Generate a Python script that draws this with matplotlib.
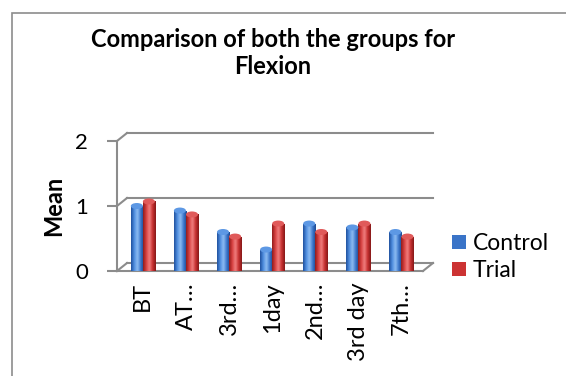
import matplotlib.pyplot as plt
import matplotlib.transforms as mtransforms
import numpy as np
from matplotlib.colors import LinearSegmentedColormap
from matplotlib.patches import Rectangle, Ellipse

plt.rcParams['font.family'] = ['Lato', 'DejaVu Sans']

# categories and group means
labels = ['BT', 'AT…', '3rd…', '1day', '2nd…', '3rd day', '7th…']
control = [1.0, 0.93, 0.6, 0.33, 0.73, 0.67, 0.6]
trial = [1.07, 0.87, 0.53, 0.73, 0.6, 0.73, 0.53]

W, H = 566, 376
fig = plt.figure(figsize=(W / 100, H / 100), dpi=100)
fig.patches.append(Rectangle((12 / W, -0.05), 1.1, 1 - 13 / H + 0.05,
                             transform=fig.transFigure, fill=False,
                             edgecolor='#8c8c8c', lw=1.2))

ax = fig.add_axes([117 / W, 1 - 271 / H, 306 / W, 130 / H])
x = np.arange(len(labels))
w = 0.28
xlim = (-0.6, 6.5)
ylim = (0, 2)
ax.set_xlim(*xlim)
ax.set_ylim(*ylim)

# back wall lines, shifted like the 3D chart
grey = '#8c8c8c'
back = mtransforms.offset_copy(ax.transData, fig=fig, x=10, y=8, units='dots')
inv = ax.transData.inverted()
for yv in [0, 1, 2]:
    ax.plot([xlim[0], xlim[1]], [yv, yv], color=grey, lw=1.5, transform=back,
            clip_on=False, zorder=1)
    a = (xlim[0], yv)
    b = inv.transform(back.transform((xlim[0], yv)))
    ax.plot([a[0], b[0]], [a[1], b[1]], color=grey, lw=1.5, clip_on=False,
            zorder=1)
# floor front edge and right edge
br = inv.transform(back.transform((xlim[1], 0)))
fr = inv.transform(back.transform((xlim[1], 0)) - np.array([10, 8]))
ax.plot([xlim[0], fr[0]], [0, 0], color=grey, lw=1.5, clip_on=False, zorder=1)
ax.plot([fr[0], br[0]], [0, br[1]], color=grey, lw=1.5, clip_on=False,
        zorder=1)

bars_c = ax.bar(x - w / 2, control, w, color='#3a74c8', label='Control',
                zorder=3)
bars_t = ax.bar(x + w / 2, trial, w, color='#cc3333', label='Trial', zorder=3)

cm_b = LinearSegmentedColormap.from_list(
    'b', ['#1f4f9c', '#4f8ee0', '#8fbdf2', '#3d78cc', '#1c4890'])
cm_r = LinearSegmentedColormap.from_list(
    'r', ['#8e1c1c', '#d84040', '#f08080', '#c83030', '#841818'])
grad = np.linspace(0, 1, 64).reshape(1, -1)
cap_h = 6 / 65
for bars, cm, capc in [(bars_c, cm_b, '#5d98e4'), (bars_t, cm_r, '#e05a5a')]:
    for b in bars:
        bx, by, bw, bh = b.get_x(), b.get_y(), b.get_width(), b.get_height()
        im = ax.imshow(grad, cmap=cm, extent=(bx, bx + bw, by, by + bh),
                       aspect='auto', zorder=4, interpolation='bicubic')
        im.set_clip_path(b)
        ax.add_patch(Ellipse((bx + bw / 2, by + bh), bw, cap_h, color=capc,
                             zorder=5, lw=0, clip_on=False))

ax.set_xlim(*xlim)
ax.set_ylim(*ylim)
ax.set_yticks([0, 1, 2])
ax.set_xticks(x)
ax.set_xticklabels(labels, rotation=90, fontsize=17)
ax.tick_params(axis='y', labelsize=16, length=7, width=1.5, color=grey, pad=14)
ax.tick_params(axis='x', length=0, pad=8)
for s in ['top', 'right', 'bottom']:
    ax.spines[s].set_visible(False)
ax.spines['left'].set_color(grey)
ax.spines['left'].set_linewidth(1.5)
ax.set_ylabel('Mean', fontsize=17, fontweight='bold')
ax.yaxis.set_label_coords(-0.17, 0.5)

fig.text(273 / W, 1 - 53 / H, 'Comparison of both the groups for\nFlexion',
         ha='center', va='center', fontsize=17, fontweight='bold',
         linespacing=1.2)

fig.legend(handles=[bars_c, bars_t], labels=['Control', 'Trial'],
           loc='center left', bbox_to_anchor=(443 / W, 1 - 257 / H),
           frameon=False, fontsize=16.5, handlelength=0.6, handleheight=0.6,
           labelspacing=0.25, handletextpad=0.3, borderaxespad=0)

fig.savefig('out.png', dpi=100)
